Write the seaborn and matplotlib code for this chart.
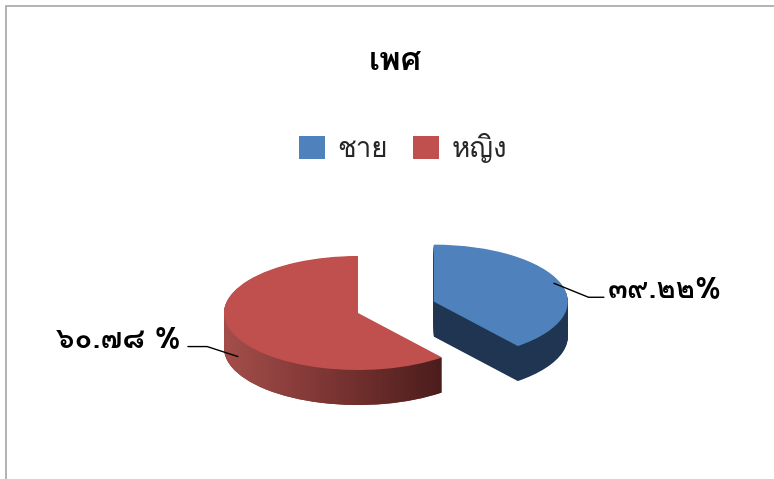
import numpy as np
import matplotlib
matplotlib.use("Agg")
import matplotlib.pyplot as plt
import seaborn as sns
from matplotlib import font_manager
from matplotlib.ft2font import FT2Font
from matplotlib.patches import Rectangle
from matplotlib.colors import LinearSegmentedColormap

# ---- data ----
title = "เพศ"
categories = ["ชาย", "หญิง"]
values = [39.22, 60.78]
pct_labels = ["๓๙.๒๒%", "๖๐.๗๘ %"]
explode = [0.6, 0.0]

sns.set_theme(style="white")
top_colors = ["#4f81bd", "#c0504d"]
side_colors = ["#1f3552", "#8a3a38"]


def pick_thai_font():
    names = [f.name for f in font_manager.fontManager.ttflist]
    for pref in ["Loma", "Tahoma", "Garuda", "Norasi"]:
        if pref in names:
            return [pref]
    for f in font_manager.fontManager.ttflist:
        try:
            cm = FT2Font(f.fname).get_charmap()
        except Exception:
            continue
        if 0x0E1E in cm and 0x0E53 in cm:
            return [f.name]
    return []


plt.rcParams["font.family"] = pick_thai_font() + ["DejaVu Sans"]

W, H, DPI = 774, 479, 100
fig = plt.figure(figsize=(W / DPI, H / DPI), dpi=DPI)
ax = fig.add_axes([0, 0, 1, 1])
RX, RY = 134.0, 57.0
CX, CY = 358.0, H - 313.0
xlim = (-CX / RX, (W - CX) / RX)
ylim = (-CY / RY, (H - CY) / RY)
depth = 35.0 / RY

cmap = LinearSegmentedColormap.from_list("side", ["#a44e4b", "#7a3432", "#4a1c1b"])
grad = np.linspace(0, 1, 256).reshape(1, -1)

N = 50
for k in range(N, 0, -1):
    d = depth * k / N
    wedges, _ = ax.pie(values, explode=explode, startangle=90, counterclock=False,
                       colors=side_colors, center=(0, -d),
                       wedgeprops=dict(linewidth=0))
    im = ax.imshow(grad, cmap=cmap, extent=[-1.0, 0.65, -1 - depth - 0.2, 1.1],
                   aspect="auto", interpolation="bilinear", zorder=wedges[1].get_zorder() + 0.01)
    im.set_clip_path(wedges[1])

top, _ = ax.pie(values, explode=explode, startangle=90, counterclock=False,
                colors=top_colors, wedgeprops=dict(linewidth=0))
for w in top:
    w.set_zorder(5)

ax.set_aspect("auto")
ax.set_xlim(*xlim)
ax.set_ylim(*ylim)
ax.axis("off")

# labels with leader lines
offsets = [((50, -14), (54, -14), "left", -22, 0.0), ((-50, 10), (-57, 10), "right", -18, 0.72)]
for w, lab, (lo, to, ha, ang, df) in zip(top, pct_labels, offsets):
    tm = np.deg2rad((w.theta1 + w.theta2) / 2)
    cx, cy = w.center
    anchor = (cx + 0.95 * w.r * np.cos(tm), cy + 0.97 * w.r * np.sin(tm) - df * depth)
    ax.annotate("", xy=anchor, xytext=lo, textcoords="offset pixels",
                arrowprops=dict(arrowstyle="-", color="black", lw=1.0, shrinkA=0, shrinkB=0,
                                connectionstyle=f"angle,angleA=0,angleB={ang},rad=0"),
                zorder=6)
    ax.annotate(lab, xy=anchor, xytext=to, textcoords="offset pixels", ha=ha, va="baseline",
                fontsize=21, fontweight="bold", color="black", zorder=6)

fig.text(395 / W, 1 - 70 / H, title, ha="center", va="baseline", fontsize=23.5,
         fontweight="bold", color="black")
fig.legend(handles=top, labels=categories, loc="center", bbox_to_anchor=(403 / W, 1 - 148 / H),
           ncol=2, frameon=False, fontsize=20, handlelength=0.94, handleheight=0.94,
           handletextpad=0.45, columnspacing=0.9)

fig.add_artist(Rectangle((5.5 / W, -0.05), 1.1, 1 - 5.5 / H + 0.05, fill=False,
                         edgecolor="#a6a6a6", lw=1.2, transform=fig.transFigure))

fig.savefig("out.png", dpi=DPI)
